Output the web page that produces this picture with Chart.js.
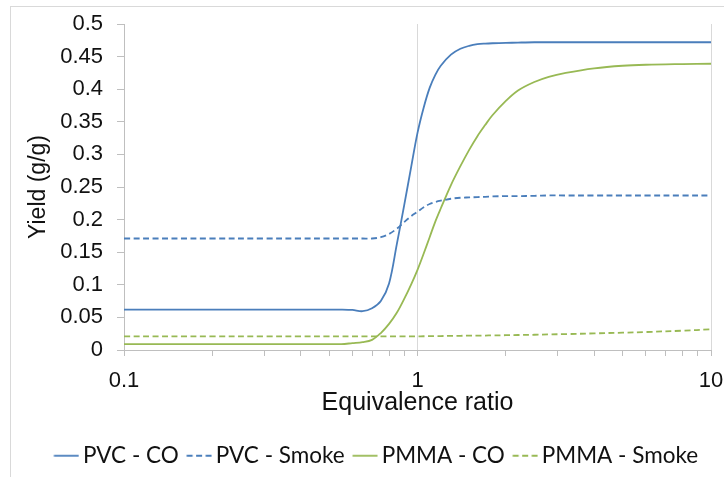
<!DOCTYPE html>
<html>
<head>
<meta charset="utf-8">
<script src="https://cdn.jsdelivr.net/npm/chart.js@4"></script>
<style>
  html, body { margin: 0; padding: 0; background: #fff; }
  #wrap { position: relative; width: 724px; height: 477px; }
</style>
</head>
<body>
<div id="wrap"><canvas id="c" width="724" height="477"></canvas></div>
<script>
// Equivalence ratio (x) sample points
const equivalenceRatio = [0.1, 0.2, 0.3, 0.4, 0.5, 0.55, 0.6, 0.65, 0.7, 0.75, 0.8, 0.85, 0.9, 0.95, 1.0, 1.05, 1.1, 1.15, 1.2, 1.3, 1.4, 1.5, 1.6, 1.7, 1.8, 2.0, 2.2, 2.5, 2.8, 3.2, 4, 5, 6, 8, 10];

// Series values (yield, g/g)
const pvcCO     = [0.062, 0.062, 0.062, 0.062, 0.062, 0.062, 0.0614, 0.0595, 0.064, 0.075, 0.102, 0.162, 0.221, 0.279, 0.333, 0.372, 0.402, 0.422, 0.436, 0.453, 0.462, 0.4665, 0.469, 0.470, 0.4705, 0.471, 0.4715, 0.472, 0.472, 0.472, 0.472, 0.472, 0.472, 0.472, 0.472];
const pvcSmoke  = [0.171, 0.171, 0.171, 0.171, 0.171, 0.171, 0.171, 0.171, 0.171, 0.173, 0.178, 0.186, 0.196, 0.205, 0.212, 0.219, 0.224, 0.227, 0.229, 0.232, 0.2335, 0.234, 0.2345, 0.235, 0.2355, 0.236, 0.236, 0.2365, 0.237, 0.237, 0.237, 0.237, 0.237, 0.237, 0.237];
const pmmaCO    = [0.009, 0.009, 0.009, 0.009, 0.009, 0.009, 0.0105, 0.012, 0.0155, 0.026, 0.040, 0.057, 0.078, 0.100, 0.123, 0.148, 0.173, 0.197, 0.217, 0.253, 0.282, 0.307, 0.328, 0.345, 0.360, 0.382, 0.398, 0.411, 0.419, 0.425, 0.432, 0.436, 0.4375, 0.4385, 0.439];
const pmmaSmoke = [0.021, 0.021, 0.021, 0.021, 0.021, 0.021, 0.021, 0.021, 0.021, 0.021, 0.021, 0.021, 0.021, 0.021, 0.021, 0.0211, 0.0212, 0.0213, 0.0214, 0.0216, 0.0218, 0.022, 0.0221, 0.0222, 0.0224, 0.0227, 0.023, 0.0234, 0.0239, 0.0244, 0.0255, 0.0266, 0.0276, 0.0296, 0.0317];

const seriesNames = ['PVC - CO', 'PVC - Smoke', 'PMMA - CO', 'PMMA - Smoke'];

// Tick values
const xTickValues = [0.1, 0.2, 0.3, 0.4, 0.5, 0.6, 0.7, 0.8, 0.9, 1, 2, 3, 4, 5, 6, 7, 8, 9, 10];
const xTickLabels = [0.1, 1, 10];
const yTickValues = [0, 0.05, 0.1, 0.15, 0.2, 0.25, 0.3, 0.35, 0.4, 0.45, 0.5];

const BLUE = '#4a7ebb';
const GREEN = '#98b954';
const TXT = '#111111';

function pts(ys) { return equivalenceRatio.map((x, i) => ({x: x, y: ys[i]})); }

function ds(label, ys, color, dashed) {
  return {
    label: label,
    data: pts(ys),
    borderColor: color,
    backgroundColor: color,
    borderWidth: 1.8,
    borderDash: dashed ? [6, 3.5] : [],
    pointRadius: 0,
    pointHoverRadius: 0,
    fill: false,
    showLine: true,
    tension: 0.35
  };
}

// legend sample: a short line segment in the dataset's colour / dash
function legendSample(d) {
  const c = document.createElement('canvas');
  c.width = 33; c.height = 6;
  const g = c.getContext('2d');
  g.strokeStyle = d.borderColor;
  g.lineWidth = d.borderWidth;
  g.setLineDash(d.borderDash || []);
  g.beginPath();
  g.moveTo(7.5, 3);
  g.lineTo(32.5, 3);
  g.stroke();
  return c;
}

const framePlugin = {
  id: 'frame',
  beforeDraw(chart) {
    const ctx = chart.ctx;
    ctx.save();
    ctx.fillStyle = '#ffffff';
    ctx.fillRect(0, 0, chart.width, chart.height);
    ctx.strokeStyle = '#d9d9d9';
    ctx.lineWidth = 1;
    ctx.strokeRect(10.5, 6.5, 760, 520);
    ctx.restore();
  }
};

const legendShift = {
  id: 'legendShift',
  afterLayout(chart) {
    const lg = chart.legend;
    if (!lg || !lg.lineWidths) return;
    const pad = lg.options.labels.padding;
    const start = (lg.left + pad + lg.right - lg.lineWidths[0]) / 2;
    const dx = 54 - start;
    lg.left += dx;
    lg.right += dx;
  }
};

const tickFont = { family: "'Liberation Sans', Arial, sans-serif", size: 22 };

new Chart(document.getElementById('c'), {
  type: 'scatter',
  data: {
    datasets: [
      ds(seriesNames[0], pvcCO, BLUE, false),
      ds(seriesNames[1], pvcSmoke, BLUE, true),
      ds(seriesNames[2], pmmaCO, GREEN, false),
      ds(seriesNames[3], pmmaSmoke, GREEN, true)
    ]
  },
  options: {
    responsive: false,
    animation: false,
    events: [],
    layout: { padding: { top: 24, right: 13, left: 0, bottom: 0 } },
    plugins: {
      tooltip: { enabled: false },
      legend: {
        display: true,
        position: 'bottom',
        labels: {
          usePointStyle: true,
          pointStyleWidth: 17.75,
          padding: 8,
          color: TXT,
          font: { family: "Lato, 'Open Sans', sans-serif", size: 22.5, lineHeight: 1.0 },
          generateLabels(chart) {
            return chart.data.datasets.map((d, i) => ({
              text: d.label,
              fillStyle: d.borderColor,
              strokeStyle: d.borderColor,
              lineWidth: d.borderWidth,
              lineDash: d.borderDash,
              pointStyle: legendSample(d),
              hidden: false,
              datasetIndex: i,
              fontColor: TXT
            }));
          }
        }
      }
    },
    scales: {
      x: {
        type: 'logarithmic',
        min: 0.1,
        max: 10,
        afterBuildTicks(scale) {
          scale.ticks = xTickValues.map(v => ({ value: v, major: xTickLabels.includes(v) }));
        },
        afterFit(scale) {
          scale.height = 86.5;
          scale.paddingLeft = 0;
          scale.paddingRight = 0;
        },
        ticks: {
          autoSkip: false,
          maxRotation: 0,
          color: TXT,
          font: tickFont,
          padding: 12,
          callback(value) { return xTickLabels.includes(value) ? String(value) : ''; }
        },
        grid: {
          drawOnChartArea: true,
          color(ctx) { return (ctx.tick && (ctx.tick.value === 1 || ctx.tick.value === 10)) ? '#d9d9d9' : 'rgba(0,0,0,0)'; },
          tickColor: '#bfbfbf',
          tickLength: 6,
          lineWidth: 1
        },
        border: { display: true, color: '#bfbfbf', width: 1 },
        title: {
          display: true,
          text: 'Equivalence ratio',
          color: TXT,
          font: { family: "'Liberation Sans', Arial, sans-serif", size: 25 },
          padding: { top: 0, bottom: 18.5 }
        }
      },
      y: {
        type: 'linear',
        min: 0,
        max: 0.5,
        afterBuildTicks(scale) {
          scale.ticks = yTickValues.map(v => ({ value: v }));
        },
        afterFit(scale) {
          scale.width = 124;
          scale.paddingTop = 0;
          scale.paddingBottom = 0;
        },
        ticks: {
          autoSkip: false,
          color: TXT,
          font: tickFont,
          padding: 14,
          callback(value) { return String(parseFloat(Number(value).toFixed(2))); }
        },
        grid: {
          color: 'rgba(0,0,0,0)',
          tickColor: '#bfbfbf',
          tickLength: 7,
          lineWidth: 1
        },
        border: { display: true, color: '#bfbfbf', width: 1 },
        title: {
          display: true,
          text: 'Yield (g/g)',
          color: TXT,
          font: { family: "'Liberation Sans', Arial, sans-serif", size: 23 },
          padding: { top: 25, bottom: 0 }
        }
      }
    }
  },
  plugins: [framePlugin, legendShift]
});
</script>
</body>
</html>
